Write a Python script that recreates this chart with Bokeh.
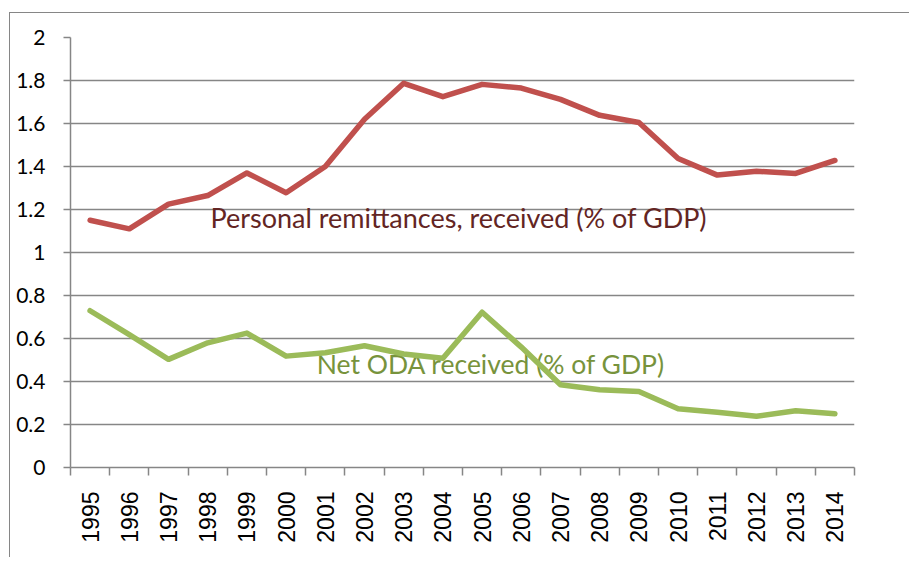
import math
from bokeh.plotting import figure
from bokeh.models import (Range1d, FixedTicker, Label, ColumnDataSource)
from bokeh.embed import file_html
from bokeh.resources import INLINE

years = ["1995", "1996", "1997", "1998", "1999", "2000", "2001", "2002", "2003", "2004",
         "2005", "2006", "2007", "2008", "2009", "2010", "2011", "2012", "2013", "2014"]
remittances = [1.15, 1.11, 1.225, 1.265, 1.37, 1.278, 1.40, 1.62, 1.787, 1.725,
               1.782, 1.765, 1.712, 1.638, 1.605, 1.437, 1.36, 1.378, 1.368, 1.428]
net_oda = [0.729, 0.618, 0.503, 0.58, 0.625, 0.518, 0.534, 0.566, 0.528, 0.508,
           0.722, 0.56, 0.385, 0.362, 0.353, 0.273, 0.257, 0.238, 0.264, 0.25]
y_ticks = [0, 0.2, 0.4, 0.6, 0.8, 1.0, 1.2, 1.4, 1.6, 1.8, 2.0]
y_tick_labels = ["0", "0.2", "0.4", "0.6", "0.8", "1", "1.2", "1.4", "1.6", "1.8", "2"]
series_labels = ["Personal remittances, received (% of GDP)", "Net ODA received (% of GDP)"]

n = len(years)
xs = [i + 0.5 for i in range(n)]
src = ColumnDataSource(dict(x=xs, rem=remittances, oda=net_oda))

GRAY = "#868686"

p = figure(width=900, height=545, output_backend="svg", toolbar_location=None,
           x_range=Range1d(0, n), y_range=Range1d(0, 2),
           min_border_left=60, min_border_right=56, min_border_top=24, min_border_bottom=91)
p.margin = (12, 0, 0, 9)
p.styles = {"border-left": "1px solid #868686", "border-top": "1px solid #868686"}
p.outline_line_color = None
p.background_fill_color = "white"
p.border_fill_color = "white"

# y axis
p.yaxis.ticker = FixedTicker(ticks=y_ticks, minor_ticks=[])
p.yaxis.major_label_overrides = {t: l for t, l in zip(y_ticks, y_tick_labels)}
p.yaxis.axis_line_color = GRAY
p.yaxis.axis_line_width = 1.5
p.yaxis.major_tick_line_color = GRAY
p.yaxis.major_tick_line_width = 1.5
p.yaxis.major_tick_out = 7
p.yaxis.major_tick_in = 0
p.yaxis.minor_tick_line_color = None
p.yaxis.major_label_standoff = 18
p.yaxis.major_label_text_font = "Lato"
p.yaxis.major_label_text_font_size = "21px"
p.yaxis.major_label_text_color = "black"

# x axis: labels at category centres, ticks at boundaries
p.xaxis.ticker = FixedTicker(ticks=xs, minor_ticks=list(range(n + 1)))
p.xaxis.major_label_overrides = {x: y for x, y in zip(xs, years)}
p.xaxis.axis_line_color = GRAY
p.xaxis.axis_line_width = 1.5
p.xaxis.major_tick_line_color = None
p.xaxis.major_tick_out = 0
p.xaxis.major_tick_in = 0
p.xaxis.minor_tick_line_color = GRAY
p.xaxis.minor_tick_line_width = 1.5
p.xaxis.minor_tick_out = 8
p.xaxis.minor_tick_in = 0
p.xaxis.major_label_orientation = math.pi / 2
p.xaxis.major_label_standoff = 16
p.xaxis.major_label_text_font = "Liberation Sans"
p.xaxis.major_label_text_font_size = "23px"
p.xaxis.major_label_text_color = "black"

# grid
p.xgrid.grid_line_color = None
p.ygrid.ticker = FixedTicker(ticks=y_ticks)
p.ygrid.grid_line_color = GRAY
p.ygrid.grid_line_width = 1.5

# series labels, behind the lines
lab1 = Label(x=3.57, y=1.165, text=series_labels[0], text_font="Lato", text_font_size="27px",
             text_color="#632523", text_baseline="middle", text_align="left", level="underlay")
lab2 = Label(x=6.28, y=0.48, text=series_labels[1], text_font="Lato", text_font_size="26.5px",
             text_color="#77933C", text_baseline="middle", text_align="left", level="underlay")
p.add_layout(lab1)
p.add_layout(lab2)

p.line("x", "rem", source=src, line_color="#C0504D", line_width=5.5, line_join="round", line_cap="round")
p.line("x", "oda", source=src, line_color="#9BBB59", line_width=5.5, line_join="round", line_cap="round")

open("out.html", "w").write(file_html(p, INLINE))
